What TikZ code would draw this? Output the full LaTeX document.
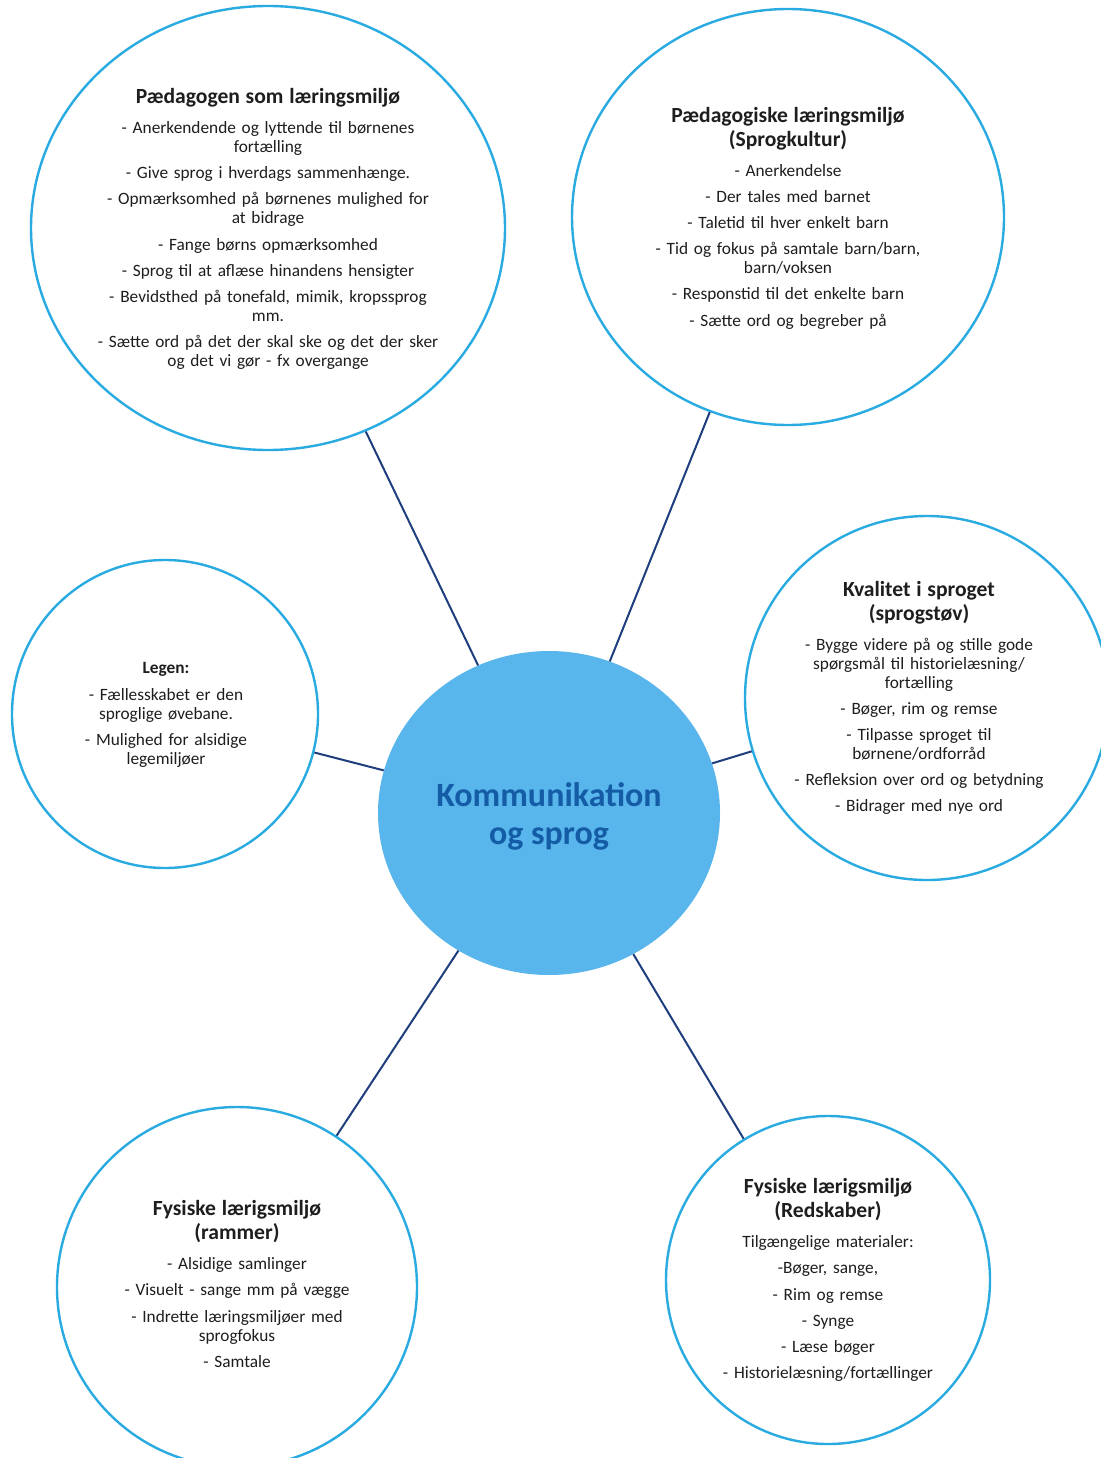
\documentclass[tikz,border=0pt]{standalone}
\usepackage{fontspec}
\setmainfont{Carlito}
\usetikzlibrary{shapes.geometric}
\definecolor{ringblue}{RGB}{41,171,226}
\definecolor{hubfill}{RGB}{88,182,236}
\definecolor{hubink}{RGB}{20,92,165}
\definecolor{linkblue}{RGB}{30,62,125}
\definecolor{ink}{RGB}{30,30,30}
\newcommand{\ttl}[1]{{\fontsize{21.6}{24}\selectfont\bfseries #1\par}\vspace{11pt}}
\newcommand{\itm}[1]{#1\par\vspace{7.2pt}}
\tikzset{
  bubble/.style={ellipse, draw=ringblue, line width=2.4pt, fill=white, inner sep=0pt},
  txt/.style={text=ink, align=center, text width=440pt, inner sep=0pt, font=\fontsize{17.3}{19}\selectfont},
  conn/.style={draw=linkblue, line width=2pt}
}
\begin{document}
\begin{tikzpicture}[x=1pt,y=-1pt]
\fill[white] (0,0) rectangle (1100,1458);
\useasboundingbox (0,0) rectangle (1100,1458);
% circles
\node[bubble, minimum width=474pt, minimum height=444pt] (tl) at (268,228) {};
\node[bubble, minimum width=432pt, minimum height=416pt] (tr) at (788,217) {};
\node[bubble, minimum width=306pt, minimum height=308pt] (lf) at (165,714) {};
\node[ellipse, fill=hubfill, inner sep=0pt, minimum width=342pt, minimum height=324pt] (hub) at (549,813) {};
\node[bubble, minimum width=364pt, minimum height=364pt] (rt) at (927,698) {};
\node[bubble, minimum width=360pt, minimum height=360pt] (bl) at (237,1287) {};
\node[bubble, minimum width=324pt, minimum height=328pt] (br) at (828,1280) {};
% connectors
\draw[conn] (hub) -- (tl);
\draw[conn] (hub) -- (tr);
\draw[conn] (hub) -- (lf);
\draw[conn] (hub) -- (rt);
\draw[conn] (hub) -- (bl);
\draw[conn] (hub) -- (br);
% texts
\node[font=\fontsize{34}{38}\selectfont\bfseries, text=hubink, align=center, inner sep=0pt] (hubtext) at (549,816) {Kommunikation\\og sprog};
\node[txt] (tltext) at (268,229) {\ttl{Pædagogen som læringsmiljø}%
\itm{- Anerkendende og lyttende til børnenes\\fortælling}%
\itm{- Give sprog i hverdags sammenhænge.}%
\itm{- Opmærksomhed på børnenes mulighed for\\at bidrage}%
\itm{- Fange børns opmærksomhed}%
\itm{- Sprog til at aflæse hinandens hensigter}%
\itm{- Bevidsthed på tonefald, mimik, kropssprog\\mm.}%
- Sætte ord på det der skal ske og det der sker\\og det vi gør - fx overgange};
\node[txt] (trtext) at (788,218) {\ttl{Pædagogiske læringsmiljø\\(Sprogkultur)}%
\itm{- Anerkendelse}%
\itm{- Der tales med barnet}%
\itm{- Taletid til hver enkelt barn}%
\itm{- Tid og fokus på samtale barn/barn,\\barn/voksen}%
\itm{- Responstid til det enkelte barn}%
- Sætte ord og begreber på};
\node[txt] (lftext) at (166,715) {\itm{\textbf{Legen:}}%
\itm{- Fællesskabet er den\\sproglige øvebane.}%
- Mulighed for alsidige\\legemiljøer};
\node[txt] (rttext) at (919,698) {\ttl{Kvalitet i sproget\\(sprogstøv)}%
\itm{- Bygge videre på og stille gode\\spørgsmål til historielæsning/\\fortælling}%
\itm{- Bøger, rim og remse}%
\itm{- Tilpasse sproget til\\børnene/ordforråd}%
\itm{- Refleksion over ord og betydning}%
- Bidrager med nye ord};
\node[txt] (bltext) at (237,1284) {\ttl{Fysiske lærigsmiljø\\(rammer)}%
\itm{- Alsidige samlinger}%
\itm{- Visuelt - sange mm på vægge}%
\itm{- Indrette læringsmiljøer med\\sprogfokus}%
- Samtale};
\node[txt] (brtext) at (828,1280) {\ttl{Fysiske lærigsmiljø\\(Redskaber)}%
\itm{Tilgængelige materialer:}%
\itm{-Bøger, sange,}%
\itm{- Rim og remse}%
\itm{- Synge}%
\itm{- Læse bøger}%
- Historielæsning/fortællinger};
\end{tikzpicture}
\end{document}
